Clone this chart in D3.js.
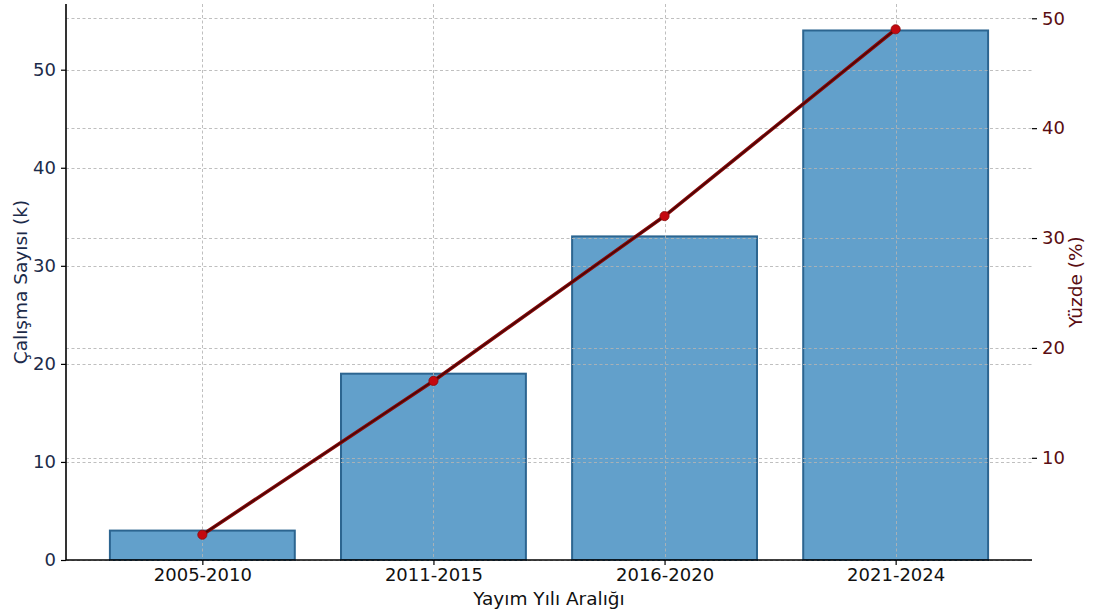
<!DOCTYPE html>
<html>
<head>
<meta charset="utf-8">
<script src="https://cdn.jsdelivr.net/npm/d3@7"></script>
<style>
  html, body { margin: 0; padding: 0; background: #fff; }
  svg { display: block; font-family: "DejaVu Sans", sans-serif; }
</style>
</head>
<body>
<svg id="chart" width="1096" height="612"></svg>
<script>
// Publication periods
const categories = ["2005-2010", "2011-2015", "2016-2020", "2021-2024"];
// Number of studies (thousands) — bars, left axis
const studyCounts = [3, 19, 33, 54];
// Share of studies (%) — line, right axis
const percentages = [3, 17, 32, 49];
// Tick labels
const leftTicks = [0, 10, 20, 30, 40, 50];
const rightTicks = [10, 20, 30, 40, 50];

const svg = d3.select("#chart");
const plot = { left: 66, right: 1032, top: 4, bottom: 560 };

const navy = "#1c2b4a";
const maroon = "#5a0d12";
const tickSize = 18;
const titleSize = 18.5;

// Category positions on a continuous index axis with 5% padding around the bars
const barWidth = 0.8;
const xPad = (categories.length - 1 + barWidth) * 0.05;
const x = d3.scaleLinear()
  .domain([-barWidth / 2 - xPad, categories.length - 1 + barWidth / 2 + xPad])
  .range([plot.left, plot.right]);

const yMax = d3.max(studyCounts) * 1.05;
const yLeft = d3.scaleLinear().domain([0, yMax]).range([plot.bottom, plot.top]);

const pMin = d3.min(percentages), pMax = d3.max(percentages);
const pPad = (pMax - pMin) * 0.05;
const yRight = d3.scaleLinear().domain([pMin - pPad, pMax + pPad]).range([plot.bottom, plot.top]);

// Bars
svg.append("g").selectAll("rect")
  .data(studyCounts)
  .join("rect")
  .attr("x", (d, i) => x(i - barWidth / 2))
  .attr("width", x(barWidth) - x(0))
  .attr("y", d => yLeft(d))
  .attr("height", d => yLeft(0) - yLeft(d))
  .attr("fill", "#62a0cb")
  .attr("stroke", "#2c6590")
  .attr("stroke-width", 2);

// Grid lines (drawn above the bars)
const grid = svg.append("g")
  .attr("stroke", "#b4b4b4")
  .attr("stroke-width", 1)
  .attr("stroke-dasharray", "3,2.5")
  .attr("stroke-opacity", 0.85);

grid.selectAll("line.gl")
  .data(leftTicks)
  .join("line")
  .attr("class", "gl")
  .attr("x1", plot.left).attr("x2", plot.right)
  .attr("y1", d => Math.round(yLeft(d)) + 0.5).attr("y2", d => Math.round(yLeft(d)) + 0.5);

grid.selectAll("line.gr")
  .data(rightTicks)
  .join("line")
  .attr("class", "gr")
  .attr("x1", plot.left).attr("x2", plot.right)
  .attr("y1", d => Math.round(yRight(d)) + 0.5).attr("y2", d => Math.round(yRight(d)) + 0.5);

grid.selectAll("line.gv")
  .data(categories)
  .join("line")
  .attr("class", "gv")
  .attr("x1", (d, i) => Math.round(x(i)) + 0.5).attr("x2", (d, i) => Math.round(x(i)) + 0.5)
  .attr("y1", plot.top).attr("y2", plot.bottom);

// Left axis
const leftAxis = svg.append("g")
  .attr("transform", `translate(${plot.left},0)`)
  .call(d3.axisLeft(yLeft).tickValues(leftTicks).tickSize(5).tickPadding(5));
leftAxis.select(".domain").attr("stroke", "#000").attr("stroke-width", 1.6)
  .attr("d", `M0,${plot.top}V${plot.bottom}`);
leftAxis.selectAll(".tick line").attr("stroke", "#000").attr("stroke-width", 1.2);
leftAxis.selectAll(".tick text")
  .attr("fill", navy).attr("font-size", tickSize)
  .attr("font-family", "DejaVu Sans, sans-serif");

// Right axis (ticks and labels only)
const rightAxis = svg.append("g")
  .attr("transform", `translate(${plot.right},0)`)
  .call(d3.axisRight(yRight).tickValues(rightTicks).tickSize(5).tickPadding(5));
rightAxis.select(".domain").remove();
rightAxis.selectAll(".tick line").attr("stroke", "#000").attr("stroke-width", 1.2);
rightAxis.selectAll(".tick text")
  .attr("fill", maroon).attr("font-size", tickSize)
  .attr("font-family", "DejaVu Sans, sans-serif");

// Bottom axis
const bottomAxis = svg.append("g")
  .attr("transform", `translate(0,${plot.bottom})`)
  .call(d3.axisBottom(x).tickValues(d3.range(categories.length))
    .tickFormat(i => categories[i]).tickSize(5).tickPadding(3));
bottomAxis.select(".domain").attr("stroke", "#000").attr("stroke-width", 1.6)
  .attr("d", `M${plot.left},0H${plot.right}`);
bottomAxis.selectAll(".tick line").attr("stroke", "#000").attr("stroke-width", 1.2);
bottomAxis.selectAll(".tick text")
  .attr("fill", "#111").attr("font-size", tickSize)
  .attr("font-family", "DejaVu Sans, sans-serif");

// Percentage line with markers
const line = d3.line()
  .x((d, i) => x(i))
  .y(d => yRight(d));

svg.append("path")
  .datum(percentages)
  .attr("d", line)
  .attr("fill", "none")
  .attr("stroke", "#8b0a0a")
  .attr("stroke-width", 3.6);
svg.append("path")
  .datum(percentages)
  .attr("d", line)
  .attr("fill", "none")
  .attr("stroke", "#4a0606")
  .attr("stroke-width", 1.5);

svg.append("g").selectAll("circle")
  .data(percentages)
  .join("circle")
  .attr("cx", (d, i) => x(i))
  .attr("cy", d => yRight(d))
  .attr("r", 4.6)
  .attr("fill", "#c4080f")
  .attr("stroke", "#8b0a0a")
  .attr("stroke-width", 0.8);

// Axis titles
svg.append("text")
  .attr("transform", `translate(27,${(plot.top + plot.bottom) / 2}) rotate(-90)`)
  .attr("text-anchor", "middle")
  .attr("fill", navy)
  .attr("font-size", titleSize)
  .text("Çalışma Sayısı (k)");

svg.append("text")
  .attr("transform", `translate(1082,${(plot.top + plot.bottom) / 2}) rotate(-90)`)
  .attr("text-anchor", "middle")
  .attr("fill", maroon)
  .attr("font-size", titleSize)
  .text("Yüzde (%)");

svg.append("text")
  .attr("x", (plot.left + plot.right) / 2)
  .attr("y", 605)
  .attr("text-anchor", "middle")
  .attr("fill", "#111")
  .attr("font-size", titleSize)
  .text("Yayım Yılı Aralığı");
</script>
</body>
</html>
